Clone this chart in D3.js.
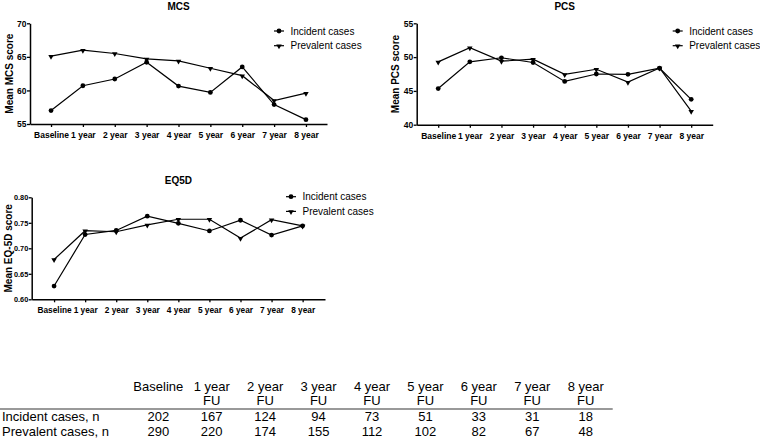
<!DOCTYPE html>
<html>
<head>
<meta charset="utf-8">
<script src="https://cdn.jsdelivr.net/npm/d3@7"></script>
<style>
  body { margin: 0; background: #fff; }
  svg { font-family: "Liberation Sans", Arial, sans-serif; }
</style>
</head>
<body>
<svg id="chart" width="760" height="440"></svg>
<script>
// time points on the x axis
var timepoints = ["Baseline", "1 year", "2 year", "3 year", "4 year", "5 year", "6 year", "7 year", "8 year"];
var seriesNames = ["Incident cases", "Prevalent cases"];

// mean scores
var mcsIncident = [57.0, 60.7, 61.7, 64.2, 60.65, 59.7, 63.5, 57.9, 55.65];
var mcsPrevalent = [65.1, 66.0, 65.5, 64.7, 64.4, 63.3, 62.2, 58.5, 59.6];
var pcsIncident = [45.35, 49.3, 49.9, 49.2, 46.4, 47.5, 47.45, 48.35, 43.75];
var pcsPrevalent = [49.3, 51.4, 49.4, 49.7, 47.45, 48.2, 46.3, 48.4, 42.0];
var eqIncident = [0.626, 0.727, 0.735, 0.763, 0.749, 0.734, 0.755, 0.726, 0.744];
var eqPrevalent = [0.678, 0.7345, 0.7325, 0.746, 0.757, 0.757, 0.720, 0.756, 0.744];

var mcsTicks = [55, 60, 65, 70];
var pcsTicks = [40, 45, 50, 55];
var eqTicks = [0.60, 0.65, 0.70, 0.75, 0.80];

// follow-up table
var tableCols = ["Baseline", "1 year", "2 year", "3 year", "4 year", "5 year", "6 year", "7 year", "8 year"];
var tableRows = ["Incident cases, n", "Prevalent cases, n"];
var incidentN = [202, 167, 124, 94, 73, 51, 33, 31, 18];
var prevalentN = [290, 220, 174, 155, 112, 102, 82, 67, 48];

var svg = d3.select("#chart");

var panels = [
  { title: "MCS", ytitle: "Mean MCS score", series: [mcsIncident, mcsPrevalent], ticks: mcsTicks, fmt: d3.format("d"),
    x0: 30, x1: 327, y0: 124, y1: 23.3, pad: 0.66, legX: 279, legY: 31, xfs: 8.5, yfs: 8.5, ytx: 9.3 },
  { title: "PCS", ytitle: "Mean PCS score", series: [pcsIncident, pcsPrevalent], ticks: pcsTicks, fmt: d3.format("d"),
    x0: 416.7, x1: 712.7, y0: 124.7, y1: 23.3, pad: 0.68, legX: 677.7, legY: 31, xfs: 8.5, yfs: 8.5, ytx: 395 },
  { title: "EQ5D", ytitle: "Mean EQ-5D score", series: [eqIncident, eqPrevalent], ticks: eqTicks, fmt: d3.format(".2f"),
    x0: 31.7, x1: 325, y0: 299.3, y1: 197.3, pad: 0.72, legX: 291, legY: 196.7, xfs: 8.3, yfs: 7.3, ytx: 8.3 }
];

var triangle = d3.symbol().type(d3.symbolTriangle).size(13);

panels.forEach(function (p) {
  var g = svg.append("g");
  var x = d3.scalePoint().domain(timepoints).range([p.x0, p.x1]).padding(p.pad);
  var y = d3.scaleLinear().domain(d3.extent(p.ticks)).range([p.y0, p.y1]);

  // axes
  var xAxis = g.append("g")
    .attr("transform", "translate(0," + p.y0 + ")")
    .call(d3.axisBottom(x).tickSize(3).tickSizeOuter(0));
  var yAxis = g.append("g")
    .attr("transform", "translate(" + p.x0 + ",0)")
    .call(d3.axisLeft(y).tickValues(p.ticks).tickFormat(p.fmt).tickSize(3).tickSizeOuter(0));
  [xAxis, yAxis].forEach(function (a) {
    a.attr("font-family", null).attr("font-size", null);
    a.select(".domain").attr("stroke", "#000").attr("stroke-width", 1.5);
    a.selectAll(".tick line").attr("stroke", "#000").attr("stroke-width", 1.3);
    a.selectAll("text").attr("fill", "#000").style("font-weight", "bold");
  });
  xAxis.selectAll("text").attr("dy", "0.95em").style("font-size", p.xfs + "px");
  yAxis.selectAll("text").attr("x", -3.5).style("font-size", p.yfs + "px");

  // titles
  g.append("text")
    .attr("x", (p.x0 + p.x1) / 2)
    .attr("y", p.y1 - 13)
    .attr("text-anchor", "middle")
    .style("font-size", "10px").style("font-weight", "bold")
    .text(p.title);
  g.append("text")
    .attr("transform", "translate(" + p.ytx + "," + ((p.y0 + p.y1) / 2) + ") rotate(-90)")
    .attr("text-anchor", "middle")
    .attr("dy", "0.35em")
    .style("font-size", "10px").style("font-weight", "bold")
    .text(p.ytitle);

  // lines + markers
  var line = d3.line()
    .x(function (d, i) { return x(timepoints[i]); })
    .y(function (d) { return y(d); });
  p.series.forEach(function (vals, si) {
    g.append("path")
      .datum(vals)
      .attr("fill", "none")
      .attr("stroke", "#000")
      .attr("stroke-width", 1.2)
      .attr("d", line);
    var pts = g.selectAll(".pt" + si)
      .data(vals)
      .enter();
    if (si === 0) {
      pts.append("circle")
        .attr("cx", function (d, i) { return x(timepoints[i]); })
        .attr("cy", function (d) { return y(d); })
        .attr("r", 2.4)
        .attr("fill", "#000");
    } else {
      pts.append("path")
        .attr("d", triangle)
        .attr("fill", "#000")
        .attr("transform", function (d, i) {
          return "translate(" + x(timepoints[i]) + "," + (y(d) + 0.4) + ") rotate(180)";
        });
    }
  });

  // legend
  seriesNames.forEach(function (name, si) {
    var ly = p.legY + si * 14.7;
    g.append("line")
      .attr("x1", p.legX - 5).attr("x2", p.legX + 5)
      .attr("y1", ly).attr("y2", ly)
      .attr("stroke", "#000").attr("stroke-width", 1.2);
    if (si === 0) {
      g.append("circle").attr("cx", p.legX).attr("cy", ly).attr("r", 2.4).attr("fill", "#000");
    } else {
      g.append("path").attr("d", triangle).attr("fill", "#000")
        .attr("transform", "translate(" + p.legX + "," + (ly + 0.4) + ") rotate(180)");
    }
    g.append("text")
      .attr("x", p.legX + 11.5)
      .attr("y", ly)
      .attr("dy", "0.35em")
      .style("font-size", "10px")
      .text(name);
  });
});

// table of n per timepoint
var tx = d3.scalePoint().domain(tableCols).range([158.3, 585.7]);
var tbl = svg.append("g").style("font-size", "13px").attr("fill", "#000");

tableCols.forEach(function (c, i) {
  tbl.append("text")
    .attr("x", tx(c)).attr("y", 386).attr("dy", "0.35em")
    .attr("text-anchor", "middle")
    .text(c);
  if (i > 0) {
    tbl.append("text")
      .attr("x", tx(c)).attr("y", 400.7).attr("dy", "0.35em")
      .attr("text-anchor", "middle")
      .text("FU");
  }
});

tbl.append("line")
  .attr("x1", 0).attr("x2", 612.7)
  .attr("y1", 409).attr("y2", 409)
  .attr("stroke", "#999").attr("stroke-width", 1.8);

[incidentN, prevalentN].forEach(function (vals, ri) {
  var ry = 416.7 + ri * 15;
  tbl.append("text")
    .attr("x", 2).attr("y", ry).attr("dy", "0.35em")
    .text(tableRows[ri]);
  tbl.selectAll(".r" + ri)
    .data(vals)
    .enter()
    .append("text")
    .attr("x", function (d, i) { return tx(tableCols[i]); })
    .attr("y", ry).attr("dy", "0.35em")
    .attr("text-anchor", "middle")
    .text(function (d) { return d; });
});
</script>
</body>
</html>
